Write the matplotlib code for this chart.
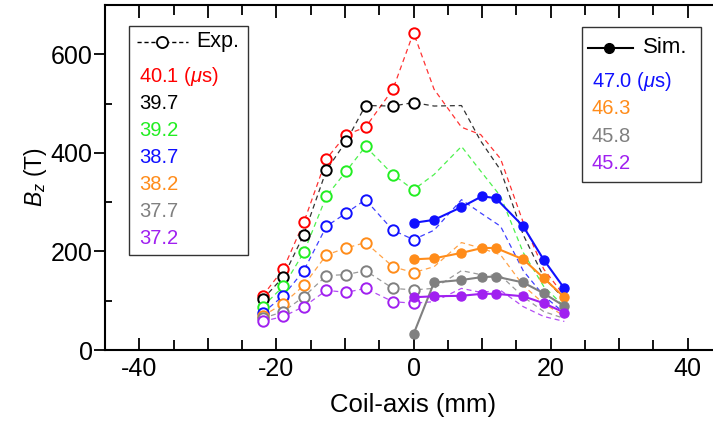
import matplotlib
matplotlib.use("Agg")
import matplotlib.pyplot as plt
from matplotlib.lines import Line2D
from matplotlib.patches import Rectangle
from matplotlib.ticker import MultipleLocator, FuncFormatter

plt.rcParams["font.family"] = ["Liberation Sans", "DejaVu Sans"]
plt.rcParams["mathtext.fontset"] = "custom"
plt.rcParams["mathtext.rm"] = "Liberation Sans"
plt.rcParams["mathtext.it"] = "Liberation Sans:italic"

# Experiment (measured on the negative side, mirrored dashed on the positive side)
exp_x = [-22, -19, -16, -12.7, -9.8, -7, -3, 0]
exp_times = ["40.1", "39.7", "39.2", "38.7", "38.2", "37.7", "37.2"]
exp_colors = ["#ff0000", "#000000", "#22ee22", "#1010ff", "#ff8c1a", "#808080", "#a020f0"]
exp_vals = [
    [110, 164, 259, 388, 437, 452, 529, 644],
    [103, 148, 234, 365, 424, 496, 495, 502],
    [88, 129, 198, 312, 363, 413, 356, 325],
    [75, 110, 161, 251, 278, 305, 243, 224],
    [69, 94, 131, 193, 207, 218, 169, 157],
    [64, 78, 108, 151, 153, 161, 125, 122],
    [58, 68, 88, 121, 117, 125, 98, 95],
]

# Simulation
sim_x = [0, 3, 7, 10, 12, 16, 19, 22]
sim_times = ["47.0", "46.3", "45.8", "45.2"]
sim_colors = ["#1010ff", "#ff8c1a", "#808080", "#a020f0"]
sim_vals = [
    [258, 264, 290, 312, 308, 251, 183, 125],
    [184, 186, 197, 207, 207, 184, 146, 107],
    [32, 137, 142, 148, 149, 137, 115, 89],
    [107, 109, 110, 114, 114, 109, 95, 76],
]

W, H = 713, 423
fig = plt.figure(figsize=(W / 100, H / 100), dpi=100)
ax = fig.add_axes([105 / W, 1 - 350 / H, (722 - 105) / W, (350 - 5) / H])


def px(x, y):
    return x / W, 1 - y / H


# experimental curves: mirror the measured half
for vals, c in zip(exp_vals, exp_colors):
    xs = exp_x + [-v for v in exp_x[-2::-1]]
    ys = vals + vals[-2::-1]
    ax.plot(xs, ys, ls=(0, (4, 3)), lw=0.9, color=c, alpha=0.8, zorder=2)
    ax.plot(exp_x, vals, ls="none", marker="o", ms=7.5, mfc="white", mec=c,
            mew=1.4, zorder=3)

for vals, c in zip(sim_vals, sim_colors):
    ax.plot(sim_x, vals, "-o", lw=1.5, ms=6.5, color=c, zorder=4)

ax.set_xlim(-45, 45)
ax.set_ylim(0, 700)
ax.xaxis.set_major_locator(MultipleLocator(10))
ax.xaxis.set_minor_locator(MultipleLocator(5))
ax.xaxis.set_major_formatter(FuncFormatter(lambda v, p: f"{v:.0f}" if v % 20 == 0 else ""))
ax.yaxis.set_major_locator(MultipleLocator(200))
ax.yaxis.set_minor_locator(MultipleLocator(100))
ax.tick_params(axis="x", which="both", direction="in", top=True, labelsize=18, width=1.3, pad=5)
ax.tick_params(axis="x", which="major", length=9)
ax.tick_params(axis="x", which="minor", length=7)
ax.tick_params(axis="y", which="major", direction="out", length=8, width=1.3, labelsize=18, pad=1)
ax.tick_params(axis="y", which="minor", direction="in", length=5, width=1.3)
ax.tick_params(axis="y", which="both", right=True)
for s in ax.spines.values():
    s.set_linewidth(1.5)

ax.set_xlabel("Coil-axis (mm)", fontsize=18.5, labelpad=9)
ax.set_ylabel("$B_z$ (T)", fontsize=16.5, labelpad=1)

# left legend box (Exp.)
x0, y0 = px(129, 255)
x1, y1 = px(248, 26)
fig.patches.append(Rectangle((x0, y0), x1 - x0, y1 - y0, transform=fig.transFigure,
                             fc="white", ec="#333333", lw=1.0, zorder=5))
lx = [px(137, 41.7)[0], px(188, 41.7)[0]]
ly = [px(137, 41.7)[1]] * 2
fig.lines.append(Line2D(lx, ly, transform=fig.transFigure, color="black", lw=1.0,
                        ls=(0, (3, 2)), zorder=6))
mx, my = px(162, 41.7)
fig.lines.append(Line2D([mx], [my], transform=fig.transFigure, marker="o", ms=8,
                        mfc="white", mec="black", mew=1.3, zorder=7))
tx, ty = px(196, 41.7)
fig.text(tx, ty, "Exp.", fontsize=15.5, va="center", ha="left", zorder=7)
for i, (t, c) in enumerate(zip(exp_times, exp_colors)):
    label = t + " ($\\mu$s)" if i == 0 else t
    tx, ty = px(139, 76.7 + i * 26.9)
    fig.text(tx, ty, label, fontsize=14.5, color=c, va="center", ha="left", zorder=7)

# right legend box (Sim.)
x0, y0 = px(582, 182)
x1, y1 = px(701, 27)
fig.patches.append(Rectangle((x0, y0), x1 - x0, y1 - y0, transform=fig.transFigure,
                             fc="white", ec="#333333", lw=1.0, zorder=5))
lx = [px(588, 47.7)[0], px(633, 47.7)[0]]
ly = [px(588, 47.7)[1]] * 2
fig.lines.append(Line2D(lx, ly, transform=fig.transFigure, color="black", lw=1.5,
                        zorder=6))
mx, my = px(609, 47.7)
fig.lines.append(Line2D([mx], [my], transform=fig.transFigure, marker="o", ms=7,
                        color="black", zorder=7))
tx, ty = px(643, 47.7)
fig.text(tx, ty, "Sim.", fontsize=16, va="center", ha="left", zorder=7)
for i, (t, c) in enumerate(zip(sim_times, sim_colors)):
    label = t + " ($\\mu$s)" if i == 0 else t
    tx, ty = px(591.5, 81.7 + i * 27.2)
    fig.text(tx, ty, label, fontsize=14.5, color=c, va="center", ha="left", zorder=7)

fig.savefig("out.png", dpi=100)
